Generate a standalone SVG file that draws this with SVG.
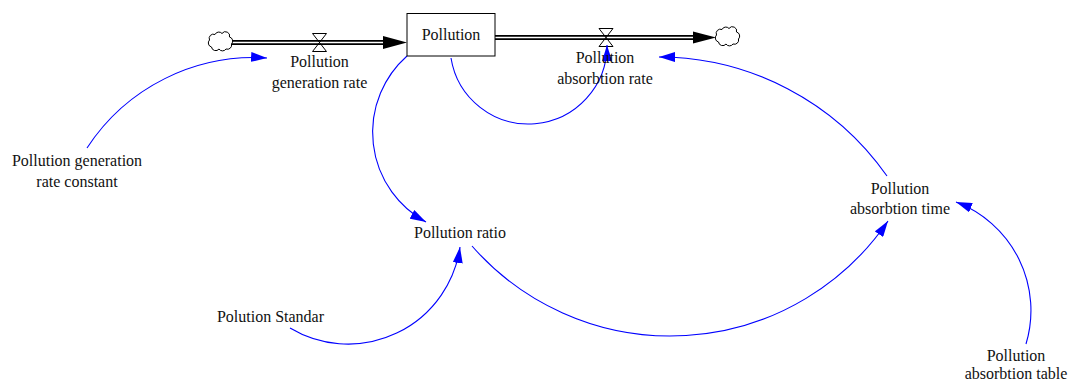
<svg xmlns="http://www.w3.org/2000/svg" xmlns:xlink="http://www.w3.org/1999/xlink" width="1070" height="383" viewBox="0 0 1070 383">
<style>
  .lbl { font-family: "Liberation Serif", "Times New Roman", serif; font-size: 16px; fill: #111; text-anchor: middle; }
  .link { fill: none; stroke: #0000ff; stroke-width: 1.1; marker-end: url(#blueArrow); }
  .pipeOuter { stroke: #000; stroke-width: 5; fill: none; }
  .pipeInner { stroke: #fff; stroke-width: 1.6; fill: none; }
  .valve { fill: none; stroke: #000; stroke-width: 1; }
  .cloud { fill: #fff; stroke: #000; stroke-width: 1; }
  .flowHead { fill: #000; }
</style>
<defs>
  <marker id="blueArrow" markerUnits="userSpaceOnUse" markerWidth="16" markerHeight="10" viewBox="0 0 16 10" refX="16" refY="5" orient="auto">
    <path d="M0,0 L16,5 L0,10 z" fill="#0000ff"/>
  </marker>
  <path id="cloudShape" d="M-10.5,-2 a4.2,4.2 0 0 1 5.5,-5.5 a4.2,4.2 0 0 1 7,-1 a4.2,4.2 0 0 1 7.5,3.5 a4.2,4.2 0 0 1 2,7 a4.2,4.2 0 0 1 -5.5,5 a4.2,4.2 0 0 1 -7,0 a4.2,4.2 0 0 1 -7.5,-2 a4.2,4.2 0 0 1 -2,-7 z"/>
</defs>
<rect width="1070" height="383" fill="#fff"/>

<g id="connectors">
  <g id="flow-generation">
    <line class="pipeOuter" x1="231" y1="42.5" x2="386" y2="42.5"/>
    <line class="pipeInner" x1="229" y1="42.5" x2="386" y2="42.5"/>
    <polygon class="flowHead" points="383,36 407,42.5 383,49"/>
    <path class="valve" d="M312.5,33.5 L326.5,33.5 L312.5,51.5 L326.5,51.5 Z"/>
  </g>
  <g id="flow-absorbtion">
    <line class="pipeOuter" x1="495" y1="37.5" x2="696" y2="37.5"/>
    <line class="pipeInner" x1="495" y1="37.5" x2="696" y2="37.5"/>
    <polygon class="flowHead" points="693,31.5 716,37.5 693,43.5"/>
    <path class="valve" d="M599,28.5 L613,28.5 L599,46.5 L613,46.5 Z"/>
  </g>
  <path class="link" d="M87,148 A199.4,199.4 0 0 1 267,58"/>
  <path class="link" d="M407,56 A102,102 0 0 0 426,222"/>
  <path class="link" d="M451,58 A78.5,78.5 0 0 0 607,45"/>
  <path class="link" d="M887,176 A279,279 0 0 0 659,57"/>
  <path class="link" d="M472,246 A263.5,263.5 0 0 0 888,221"/>
  <path class="link" d="M290,328 A113,113 0 0 0 460,247"/>
  <path class="link" d="M1026,344 A116,116 0 0 0 956,202"/>
</g>

<g id="cloud-source">
  <use xlink:href="#cloudShape" href="#cloudShape" class="cloud" x="220" y="42"/>
</g>
<g id="cloud-sink">
  <use xlink:href="#cloudShape" href="#cloudShape" class="cloud" x="727" y="37"/>
</g>

<g id="stock-pollution">
  <rect x="407" y="13.5" width="88" height="42.5" fill="#fff" stroke="#000" stroke-width="1"/>
  <text class="lbl" x="451" y="40">Pollution</text>
</g>

<g id="rate-generation">
  <text class="lbl" x="319.5" y="67">Pollution</text>
  <text class="lbl" x="319.5" y="87.5">generation rate</text>
</g>

<g id="rate-absorbtion">
  <text class="lbl" x="605" y="63">Pollution</text>
  <text class="lbl" x="605" y="83.5">absorbtion rate</text>
</g>

<g id="gen-rate-constant">
  <text class="lbl" x="77" y="166">Pollution generation</text>
  <text class="lbl" x="77" y="187">rate constant</text>
</g>

<g id="pollution-ratio">
  <text class="lbl" x="460" y="238">Pollution ratio</text>
</g>

<g id="polution-standar">
  <text class="lbl" x="270.5" y="322">Polution Standar</text>
</g>

<g id="absorbtion-time">
  <text class="lbl" x="900" y="193.5">Pollution</text>
  <text class="lbl" x="900" y="214">absorbtion time</text>
</g>

<g id="absorbtion-table">
  <text class="lbl" x="1016" y="361">Pollution</text>
  <text class="lbl" x="1016" y="379">absorbtion table</text>
</g>
</svg>
